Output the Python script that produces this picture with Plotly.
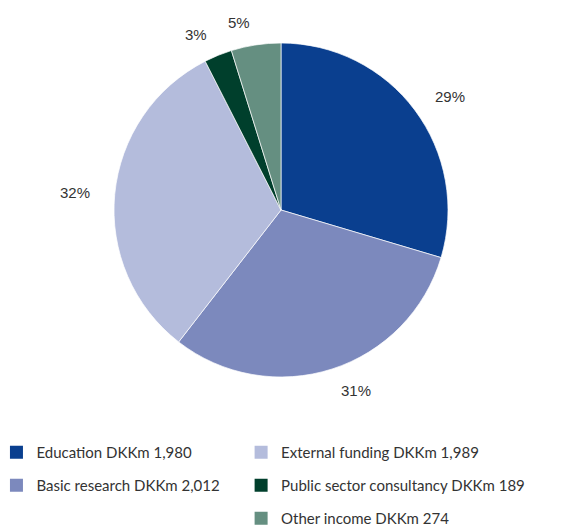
import math
import plotly.graph_objects as go

categories = ["Education", "Basic research", "External funding",
              "Public sector consultancy", "Other income"]
amounts_dkkm = [1980, 2012, 1989, 189, 274]
slice_share = [29.6, 30.9, 32.0, 2.7, 4.8]      # slice sizes as drawn
pct_labels = [29, 31, 32, 3, 5]                  # printed percentages
colors = ["#0A3F8F", "#7C89BD", "#B4BCDC", "#003F2C", "#658F81"]
legend_cols = ["legend", "legend", "legend2", "legend2", "legend2"]

W, H = 577, 527
OFF = 8  # page body margin
cx, cy, R = 281 - OFF, 210 - OFF, 167
label_r = 190

fig = go.Figure()
fig.add_trace(go.Pie(
    labels=categories, values=slice_share, sort=False, direction="clockwise",
    rotation=0, textinfo="none", hoverinfo="label",
    marker=dict(colors=colors, line=dict(color="white", width=0.7)),
    showlegend=False,
    domain=dict(x=[(cx - R) / W, (cx + R) / W], y=[(H - cy - R) / H, (H - cy + R) / H]),
))

# percent labels outside slices, positioned from the slice mid angles
total = sum(slice_share)
cum = 0
for v, lab in zip(slice_share, pct_labels):
    mid = (cum + v / 2) / total * 2 * math.pi
    cum += v
    px = cx + label_r * math.sin(mid)
    py = cy - label_r * math.cos(mid)
    fig.add_annotation(x=px / W, y=1 - py / H, xref="paper", yref="paper",
                       xanchor="left" if math.sin(mid) >= 0 else "right",
                       yanchor="middle",
                       text=f"{lab}%", showarrow=False,
                       font=dict(family="Liberation Sans, Arial", size=15, color="#333333"))

for name, amt, col, lg in zip(categories, amounts_dkkm, colors, legend_cols):
    fig.add_trace(go.Scatter(
        x=[None], y=[None], mode="markers", name=f"{name} DKKm {amt:,}",
        marker=dict(symbol="square", size=13, color=col),
        legend=lg, legendgroup=name, hoverinfo="skip"))

leg_font = dict(family="Lato, Open Sans, sans-serif", size=15, color="#333333")
leg_top = (H - 428) / H
fig.update_layout(
    width=W, height=H, margin=dict(l=0, r=0, t=0, b=0, autoexpand=False),
    paper_bgcolor="white", plot_bgcolor="white",
    xaxis=dict(visible=False), yaxis=dict(visible=False),
    legend=dict(x=-0.02, y=leg_top, xanchor="left", yanchor="top",
                font=leg_font, tracegroupgap=10.5, bgcolor="rgba(0,0,0,0)"),
    legend2=dict(x=0.404, y=leg_top, xanchor="left", yanchor="top",
                 font=leg_font, tracegroupgap=10.5, bgcolor="rgba(0,0,0,0)"),
)
fig.write_html("out.html")
